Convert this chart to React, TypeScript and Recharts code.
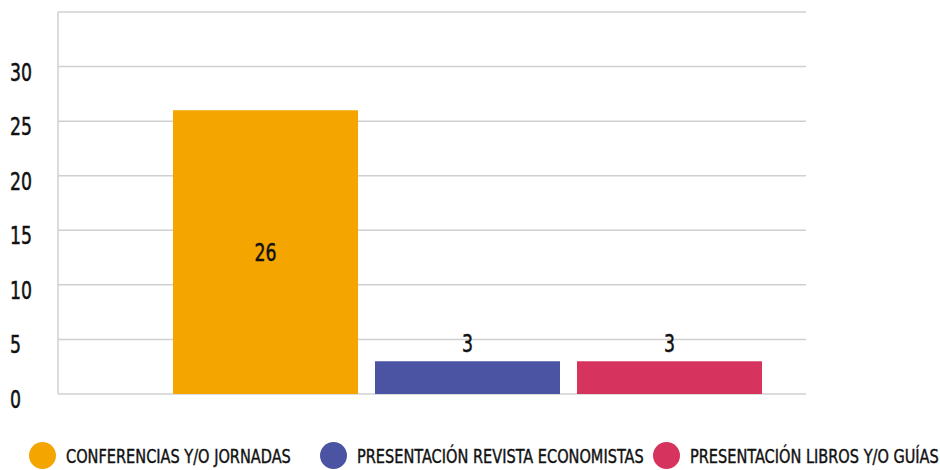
import React from 'react';
import { BarChart, Bar, XAxis, YAxis, CartesianGrid, LabelList, Legend } from 'recharts';

const categories = ['Actividades'];
const seriesNames = [
  'CONFERENCIAS Y/O JORNADAS',
  'PRESENTACIÓN REVISTA ECONOMISTAS',
  'PRESENTACIÓN LIBROS Y/O GUÍAS',
];
const seriesKeys = ['conferencias', 'revista', 'libros'];
const seriesValues = [26, 3, 3];
const seriesColors = ['#f5a500', '#4b53a3', '#d6345f'];
const yTicks = [0, 5, 10, 15, 20, 25, 30, 35];

const data = categories.map((name) => {
  const row: Record<string, string | number> = { name };
  seriesKeys.forEach((k, i) => {
    row[k] = seriesValues[i];
  });
  return row;
});

const FONT = "'DejaVu Sans Condensed', 'DejaVu Sans', sans-serif";

// narrow text: condensed font squeezed a bit more
const NarrowText = ({ x, y, anchor, children }: any) => (
  <text
    transform={`translate(${x},${y}) scale(0.8,1)`}
    textAnchor={anchor}
    fill="#111"
    stroke="#111"
    strokeWidth={0.5}
    fontSize={24}
    fontFamily={FONT}
  >
    {children}
  </text>
);

const YTick = (props: any) => {
  const { y, payload } = props;
  if (payload.value === 35) return null;
  return (
    <NarrowText x={10} y={y + 14} anchor="start">
      {payload.value}
    </NarrowText>
  );
};

const makeLabel = (inside: boolean) => (props: any) => {
  const { x, y, width, height, value } = props;
  const cx = x + width / 2;
  const by = inside ? y + height / 2 + 9 : y - 9;
  return (
    <NarrowText x={cx} y={by} anchor="middle">
      {value}
    </NarrowText>
  );
};

const LegendContent = () => {
  const lefts = [29, 320, 653];
  return (
    <div style={{ position: 'relative', width: 940, height: 30 }}>
      {seriesNames.map((n, i) => (
        <div
          key={n}
          style={{
            position: 'absolute',
            left: lefts[i],
            top: 2,
            display: 'flex',
            alignItems: 'center',
            whiteSpace: 'nowrap',
          }}
        >
          <span
            style={{
              display: 'inline-block',
              width: 27,
              height: 27,
              borderRadius: '50%',
              background: seriesColors[i],
              marginRight: 10,
            }}
          />
          <span
            style={{
              display: 'inline-block',
              fontFamily: FONT,
              fontSize: 19,
              color: '#111',
              WebkitTextStroke: '0.4px #111',
              transform: 'scaleX(0.85)',
              transformOrigin: 'left center',
            }}
          >
            {n}
          </span>
        </div>
      ))}
    </div>
  );
};

export default function App() {
  return (
    <div style={{ position: 'absolute', left: 0, top: 0, background: '#fff' }}>
      <BarChart
        width={940}
        height={470}
        data={data}
        margin={{ top: 12, right: 134, left: 10, bottom: 46 }}
        barCategoryGap={0}
        barGap={17}
      >
        <CartesianGrid vertical={false} stroke="#d0d0d0" strokeWidth={1.5} />
        <XAxis
          dataKey="name"
          tick={false}
          axisLine={{ stroke: '#d0d0d0', strokeWidth: 1.5 }}
          tickLine={false}
          height={0}
          padding={{ left: 115, right: 44 }}
        />
        <YAxis
          width={48}
          domain={[0, 35]}
          ticks={yTicks}
          interval={0}
          tick={<YTick />}
          axisLine={{ stroke: '#d0d0d0', strokeWidth: 1.5 }}
          tickLine={false}
        />
        <Legend
          verticalAlign="bottom"
          align="left"
          wrapperStyle={{ left: 0, bottom: 0, width: 940 }}
          content={<LegendContent />}
        />
        {seriesKeys.map((k, i) => (
          <Bar key={k} dataKey={k} name={seriesNames[i]} fill={seriesColors[i]} isAnimationActive={false}>
            <LabelList dataKey={k} content={makeLabel(i === 0)} />
          </Bar>
        ))}
      </BarChart>
    </div>
  );
}
